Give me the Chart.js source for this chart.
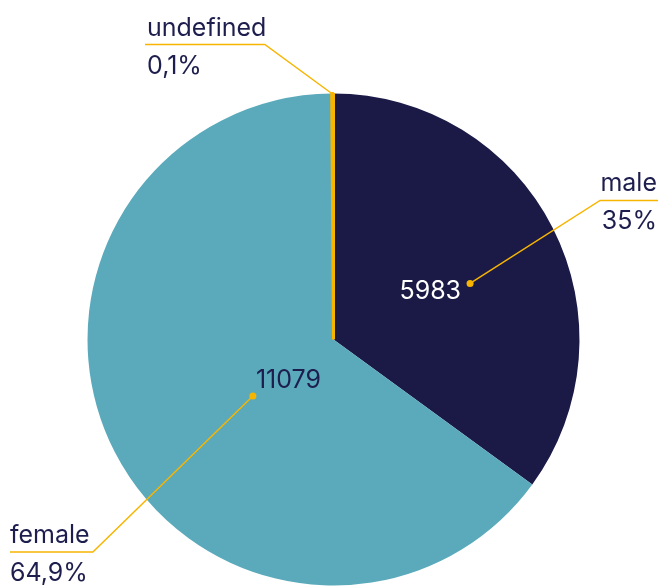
<!DOCTYPE html>
<html>
<head>
<meta charset="utf-8">
<script src="https://cdn.jsdelivr.net/npm/chart.js@4"></script>
<style>
  html, body { margin: 0; padding: 0; background: #fff; }
  #chart { display: block; }
</style>
</head>
<body>
<canvas id="chart" width="660" height="587"></canvas>
<script>
// data
const labels = ["male", "female", "undefined"];
const counts = [5983, 11079, 20];
const colors = ["#1b1a47", "#5aaabc", "#f7b500"];

const navy = "#1e1e4e";
const gold = "#f7b500";
const font = "Inter, 'Noto Sans', sans-serif";

const total = counts.reduce((a, b) => a + b, 0);
const pct = counts.map(v => {
  let s = (v / total * 100).toFixed(1).replace(".", ",");
  return s.replace(/,0$/, "") + "%";
});

// label placement (style only): angle in degrees from 12 o'clock, clockwise
const labelStyle = [
  { angle: 67.7, r: 0.6, dot: true, valColor: "#ffffff", valAlign: "right", valDx: -9, valDy: 16,
    elbowDx: 130, elbowDy: -83, lineTo: 658, textX: 657, textAlign: "right" },
  { angle: 235, r: 0.4, dot: true, valColor: navy, valAlign: "left", valDx: 3, valDy: -8,
    elbowDx: -160, elbowDy: 156, lineTo: 10, textX: 10, textAlign: "left" },
  { angle: -0.4, r: 1.0, dot: false, valColor: null,
    elbowDx: -67, elbowDy: -49, lineTo: 145, textX: 147, textAlign: "left" }
];

const leaderLabels = {
  id: "leaderLabels",
  afterDatasetsDraw(chart) {
    const ctx = chart.ctx;
    const arcs = chart.getDatasetMeta(0).data;
    const cx = arcs[0].x, cy = arcs[0].y, R = arcs[0].outerRadius;
    ctx.save();
    labelStyle.forEach((st, i) => {
      const a = st.angle * Math.PI / 180;
      const px = cx + Math.sin(a) * R * st.r;
      const py = cy - Math.cos(a) * R * st.r;
      const ex = px + st.elbowDx, ey = py + st.elbowDy;

      ctx.strokeStyle = gold;
      ctx.lineWidth = 1.5;
      ctx.beginPath();
      ctx.moveTo(px, py);
      ctx.lineTo(ex, ey);
      ctx.lineTo(st.lineTo, ey);
      ctx.stroke();

      if (st.dot) {
        ctx.fillStyle = gold;
        ctx.beginPath();
        ctx.arc(px, py, 3.5, 0, Math.PI * 2);
        ctx.fill();
      }

      ctx.font = "25px " + font;
      ctx.textBaseline = "alphabetic";
      if (st.valColor) {
        ctx.fillStyle = st.valColor;
        ctx.textAlign = st.valAlign;
        ctx.fillText(String(counts[i]), px + st.valDx, py + st.valDy);
      }

      ctx.fillStyle = navy;
      ctx.textAlign = st.textAlign;
      ctx.fillText(labels[i], st.textX, ey - 9);
      ctx.fillText(pct[i], st.textX, ey + 29);
    });
    ctx.restore();
  }
};

new Chart(document.getElementById("chart"), {
  type: "pie",
  data: {
    labels: labels,
    datasets: [{
      data: counts,
      backgroundColor: colors,
      borderColor: colors,
      borderWidth: [0, 0, 3]
    }]
  },
  options: {
    responsive: false,
    animation: false,
    layout: { padding: { top: 92, left: 86, right: 79, bottom: 0 } },
    plugins: {
      legend: { display: false },
      tooltip: { enabled: false }
    }
  },
  plugins: [leaderLabels]
});
</script>
</body>
</html>
